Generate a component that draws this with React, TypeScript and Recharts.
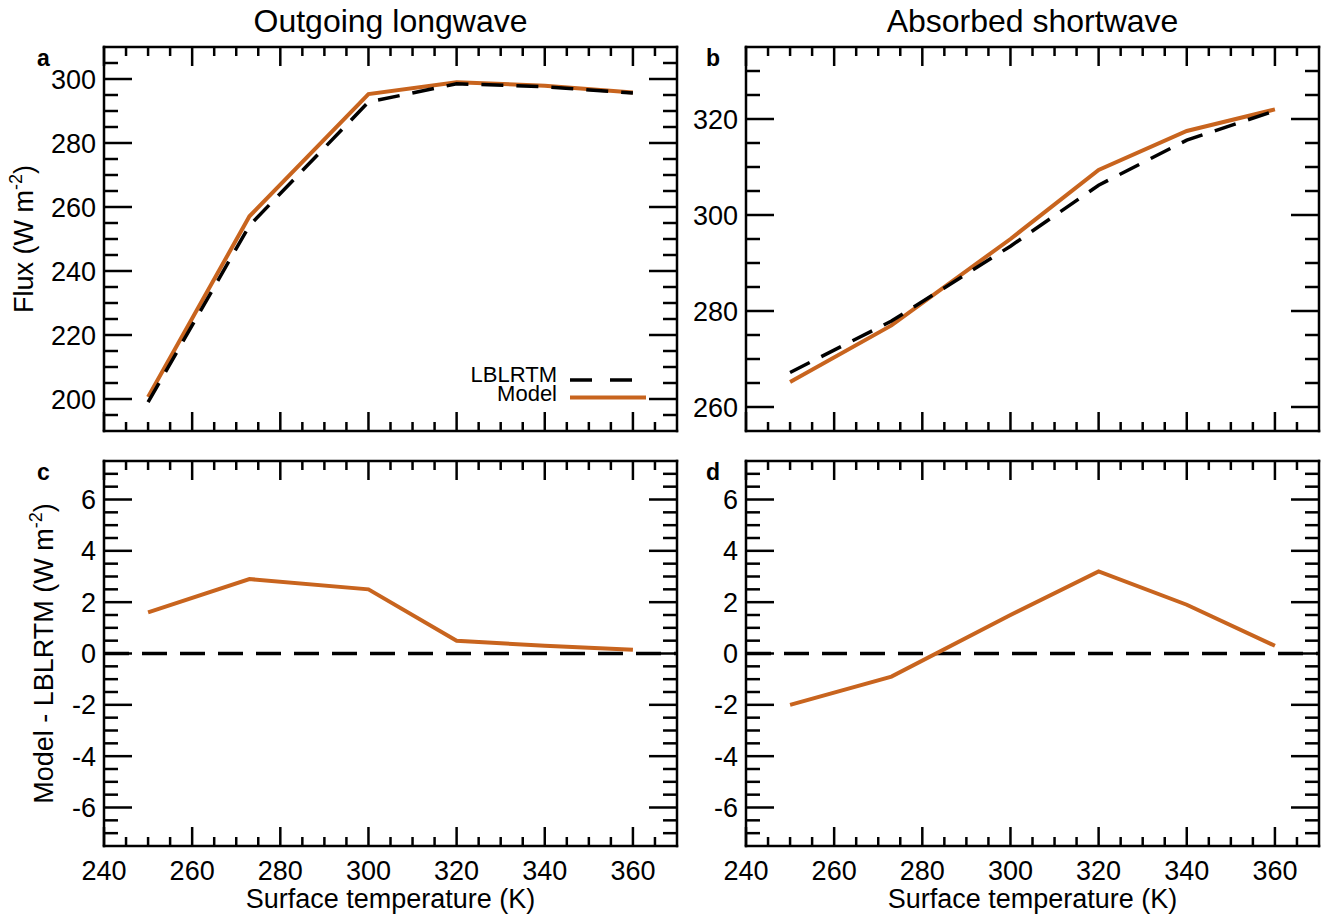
import React from 'react';
import { LineChart, Line, XAxis, YAxis, ReferenceLine, Legend } from 'recharts';

// ---------- data ----------
const temperatures = [250, 273, 300, 320, 340, 360];
const olrLblrtm = [199.0, 254.2, 292.8, 298.5, 297.6, 295.6];
const olrModel = [200.6, 257.1, 295.3, 299.0, 297.9, 295.8];
const olrDiff = [1.6, 2.9, 2.5, 0.5, 0.3, 0.15];
const aswLblrtm = [267.2, 277.9, 293.5, 306.2, 315.6, 321.7];
const aswModel = [265.2, 277.0, 295.0, 309.4, 317.5, 322.0];
const aswDiff = [-2.0, -0.9, 1.5, 3.2, 1.9, 0.3];

const xMajorTicks = [240, 260, 280, 300, 320, 340, 360];
const olrMajorTicks = [200, 220, 240, 260, 280, 300];
const aswMajorTicks = [260, 280, 300, 320];
const diffMajorTicks = [-6, -4, -2, 0, 2, 4, 6];

const xDomain: [number, number] = [240, 370];
const olrDomain: [number, number] = [190, 310];
const aswDomain: [number, number] = [255, 335];
const diffDomain: [number, number] = [-7.5, 7.5];
const xMinorStep = 5;
const fluxMinorStep = 5;
const diffMinorStep = 0.5;

const panelTitles = ['Outgoing longwave', 'Absorbed shortwave'];
const panelLetters = ['a', 'b', 'c', 'd'];
const xAxisTitle = 'Surface temperature (K)';
const fluxTitle = 'Flux (W m';
const diffTitle = 'Model - LBLRTM (W m';
const legendNames = ['LBLRTM', 'Model'];

// ---------- style ----------
const FONT = '"Liberation Sans", Arial, Helvetica, sans-serif';
const ORANGE = '#C8641E';
const TICK_W = 2.5;
const X_MAJOR = 19;
const X_MINOR = 9;
const Y_MAJOR = 28;
const Y_MINOR = 14;
const DASH = '22 13';
const TICK_FONT = 27;

const buildTicks = (domain: [number, number], step: number, majors: number[]) => {
  const n = Math.round((domain[1] - domain[0]) / step);
  const s = new Set<number>(majors);
  for (let i = 1; i < n; i++) s.add(+(domain[0] + i * step).toFixed(3));
  return Array.from(s).sort((a, b) => a - b);
};

const makeXTick = (majors: number[], side: 'top' | 'bottom', showLabel: boolean) => (props: any) => {
  const { x, y, payload } = props;
  const v = payload.value;
  const major = majors.includes(v);
  const len = major ? X_MAJOR : X_MINOR;
  const dir = side === 'bottom' ? -1 : 1;
  return (
    <g>
      <line x1={x} x2={x} y1={y} y2={y + dir * len} stroke="#000" strokeWidth={TICK_W} />
      {showLabel && major ? (
        <text x={x} y={y + 34} textAnchor="middle" fontSize={TICK_FONT} fontFamily={FONT} fill="#000">
          {String(v)}
        </text>
      ) : null}
    </g>
  );
};

const makeYTick = (majors: number[], side: 'left' | 'right', showLabel: boolean) => (props: any) => {
  const { x, y, payload } = props;
  const v = payload.value;
  const major = majors.includes(v);
  const len = major ? Y_MAJOR : Y_MINOR;
  const dir = side === 'left' ? 1 : -1;
  return (
    <g>
      <line x1={x} x2={x + dir * len} y1={y} y2={y} stroke="#000" strokeWidth={TICK_W} />
      {showLabel && major ? (
        <text x={x - 8} y={y + 9.5} textAnchor="end" fontSize={TICK_FONT} fontFamily={FONT} fill="#000">
          {String(v)}
        </text>
      ) : null}
    </g>
  );
};

const frameLine = { stroke: '#000', strokeWidth: 2.5, strokeLinecap: 'square' as const };

type PanelProps = {
  box: { left: number; top: number; width: number; height: number };
  plot: { l: number; t: number; r: number; b: number };
  data: any[];
  yDomain: [number, number];
  yMajors: number[];
  yStep: number;
  showXLabels: boolean;
  title?: string;
  letter: string;
  letterX: number;
  letterY: number;
  yTitle?: string;
  yTitleX?: number;
  diff: boolean;
  legend?: boolean;
};

function LegendBox() {
  return (
    <svg width={220} height={50} style={{ display: 'block', overflow: 'visible' }}>
      <text x={117} y={24} textAnchor="end" fontSize={22} fontFamily={FONT} fill="#000">
        {legendNames[0]}
      </text>
      <line x1={130} x2={192} y1={22} y2={22} stroke="#000" strokeWidth={3.5} strokeDasharray="22 18" />
      <text x={117} y={43} textAnchor="end" fontSize={22} fontFamily={FONT} fill="#000">
        {legendNames[1]}
      </text>
      <line x1={130} x2={206} y1={39.5} y2={39.5} stroke={ORANGE} strokeWidth={4} />
    </svg>
  );
}

function Panel(p: PanelProps) {
  const { box, plot } = p;
  // axes take 1px each, so subtract it from the margins
  const margin = {
    top: plot.t - box.top - 1,
    left: plot.l - box.left - 1,
    right: box.left + box.width - plot.r - 1,
    bottom: box.top + box.height - plot.b - 1,
  };
  const xTicks = buildTicks(xDomain, xMinorStep, xMajorTicks);
  const yTicks = buildTicks(p.yDomain, p.yStep, p.yMajors);
  const cx = (plot.l + plot.r) / 2 - box.left;
  const cy = (plot.t + plot.b) / 2 - box.top;

  const topLabel = () => (
    <g>
      {p.title ? (
        <text x={cx} y={plot.t - box.top - 15} textAnchor="middle" fontSize={32} fontFamily={FONT} fill="#000">
          {p.title}
        </text>
      ) : null}
      <text
        x={p.letterX - box.left}
        y={p.letterY - box.top}
        textAnchor="middle"
        fontSize={23}
        fontWeight="bold"
        fontFamily={FONT}
        fill="#000"
      >
        {p.letter}
      </text>
    </g>
  );

  const leftLabel = () =>
    p.yTitle ? (
      <text
        transform={`translate(${(p.yTitleX as number) - box.left},${cy}) rotate(-90)`}
        textAnchor="middle"
        fontSize={27}
        fontFamily={FONT}
        fill="#000"
      >
        {p.yTitle}
        <tspan fontSize={18} dy={-11}>-2</tspan>
        <tspan dy={11}>)</tspan>
      </text>
    ) : null;

  const bottomLabel = () =>
    p.showXLabels ? (
      <text x={cx} y={plot.b - box.top + 62} textAnchor="middle" fontSize={27} fontFamily={FONT} fill="#000">
        {xAxisTitle}
      </text>
    ) : null;

  return (
    <div style={{ position: 'absolute', left: box.left, top: box.top }}>
      <LineChart width={box.width} height={box.height} data={p.data} margin={margin}>
        <XAxis
          dataKey="t"
          type="number"
          domain={xDomain}
          ticks={xTicks}
          interval={0}
          height={1}
          tickSize={0}
          tickMargin={0}
          axisLine={frameLine}
          tickLine={false}
          tick={makeXTick(xMajorTicks, 'bottom', p.showXLabels)}
          label={bottomLabel}
          allowDataOverflow
        />
        <XAxis
          xAxisId="top"
          orientation="top"
          dataKey="t"
          type="number"
          domain={xDomain}
          ticks={xTicks}
          interval={0}
          height={1}
          tickSize={0}
          tickMargin={0}
          axisLine={frameLine}
          tickLine={false}
          tick={makeXTick(xMajorTicks, 'top', false)}
          label={topLabel}
          allowDataOverflow
        />
        <YAxis
          type="number"
          domain={p.yDomain}
          ticks={yTicks}
          interval={0}
          width={1}
          tickSize={0}
          tickMargin={0}
          axisLine={frameLine}
          tickLine={false}
          tick={makeYTick(p.yMajors, 'left', true)}
          label={leftLabel}
          allowDataOverflow
        />
        <YAxis
          yAxisId="right"
          orientation="right"
          type="number"
          domain={p.yDomain}
          ticks={yTicks}
          interval={0}
          width={1}
          tickSize={0}
          tickMargin={0}
          axisLine={frameLine}
          tickLine={false}
          tick={makeYTick(p.yMajors, 'right', false)}
          allowDataOverflow
        />
        {p.diff ? (
          <ReferenceLine y={0} stroke="#000" strokeWidth={3.5} strokeDasharray="25 13" />
        ) : null}
        {p.diff ? (
          <Line
            dataKey="diff"
            type="linear"
            stroke={ORANGE}
            strokeWidth={4}
            dot={false}
            isAnimationActive={false}
          />
        ) : null}
        {!p.diff ? (
          <Line
            dataKey="model"
            type="linear"
            stroke={ORANGE}
            strokeWidth={4}
            dot={false}
            isAnimationActive={false}
          />
        ) : null}
        {!p.diff ? (
          <Line
            dataKey="lbl"
            type="linear"
            stroke="#000"
            strokeWidth={3.5}
            strokeDasharray={DASH}
            dot={false}
            isAnimationActive={false}
          />
        ) : null}
        {p.legend ? (
          <Legend
            layout="horizontal"
            verticalAlign="middle"
            align="center"
            wrapperStyle={{ left: 440 - box.left, top: 358 - box.top, width: 220, height: 50 }}
            content={() => <LegendBox />}
          />
        ) : null}
      </LineChart>
    </div>
  );
}

const olrData = temperatures.map((t, i) => ({ t, lbl: olrLblrtm[i], model: olrModel[i] }));
const aswData = temperatures.map((t, i) => ({ t, lbl: aswLblrtm[i], model: aswModel[i] }));
const olrDiffData = temperatures.map((t, i) => ({ t, diff: olrDiff[i] }));
const aswDiffData = temperatures.map((t, i) => ({ t, diff: aswDiff[i] }));

export default function App() {
  return (
    <div
      style={{
        position: 'absolute',
        left: 0,
        top: 0,
        width: 1337,
        height: 917,
        background: '#fff',
        fontFamily: FONT,
        overflow: 'hidden',
      }}
    >
      <Panel
        box={{ left: 0, top: 0, width: 690, height: 450 }}
        plot={{ l: 104, t: 47, r: 677, b: 431 }}
        data={olrData}
        yDomain={olrDomain}
        yMajors={olrMajorTicks}
        yStep={fluxMinorStep}
        showXLabels={false}
        title={panelTitles[0]}
        letter={panelLetters[0]}
        letterX={43.5}
        letterY={66}
        yTitle={fluxTitle}
        yTitleX={33}
        diff={false}
        legend
      />
      <Panel
        box={{ left: 690, top: 0, width: 647, height: 450 }}
        plot={{ l: 746, t: 47, r: 1319, b: 431 }}
        data={aswData}
        yDomain={aswDomain}
        yMajors={aswMajorTicks}
        yStep={fluxMinorStep}
        showXLabels={false}
        title={panelTitles[1]}
        letter={panelLetters[1]}
        letterX={713}
        letterY={66}
        diff={false}
      />
      <Panel
        box={{ left: 0, top: 450, width: 690, height: 467 }}
        plot={{ l: 104, t: 461, r: 677, b: 846 }}
        data={olrDiffData}
        yDomain={diffDomain}
        yMajors={diffMajorTicks}
        yStep={diffMinorStep}
        showXLabels
        letter={panelLetters[2]}
        letterX={43.5}
        letterY={480}
        yTitle={diffTitle}
        yTitleX={53}
        diff
      />
      <Panel
        box={{ left: 690, top: 450, width: 647, height: 467 }}
        plot={{ l: 746, t: 461, r: 1319, b: 846 }}
        data={aswDiffData}
        yDomain={diffDomain}
        yMajors={diffMajorTicks}
        yStep={diffMinorStep}
        showXLabels
        letter={panelLetters[3]}
        letterX={713}
        letterY={480}
        diff
      />
    </div>
  );
}
